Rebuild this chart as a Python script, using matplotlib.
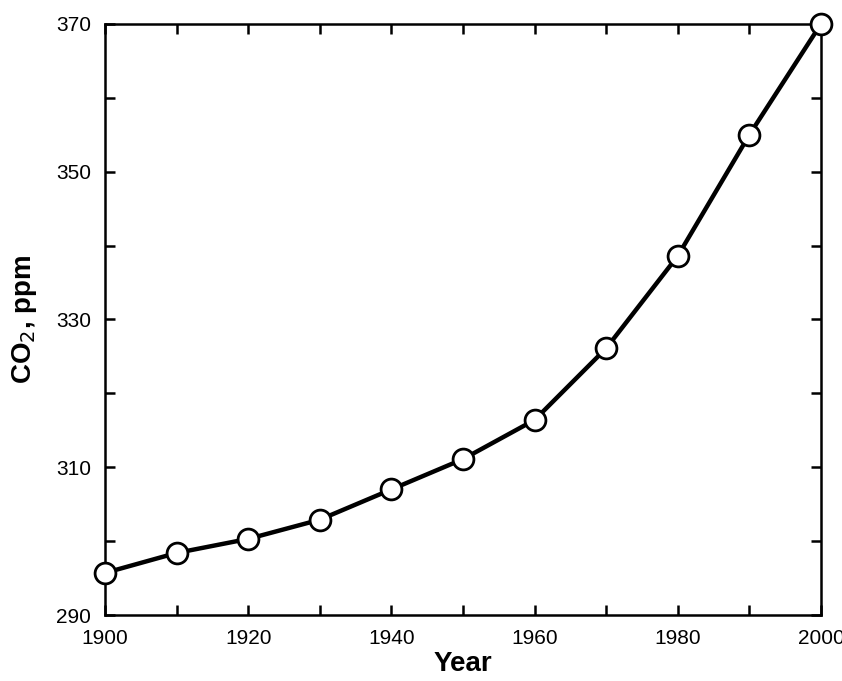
import numpy as np
import matplotlib.pyplot as plt

plt.rcParams['font.family'] = ['Liberation Sans', 'DejaVu Sans']

# Data
years = [1900, 1910, 1920, 1930, 1940, 1950, 1960, 1970, 1980, 1990, 2000]
co2 = [295.7, 298.4, 300.3, 302.9, 307.0, 311.1, 316.4, 326.1, 338.6, 355.0, 370.0]

x_ticks = [1900, 1920, 1940, 1960, 1980, 2000]
y_ticks = [290, 310, 330, 350, 370]

fig = plt.figure(figsize=(8.42, 6.81), dpi=100)
ax = fig.add_axes([0.1247, 0.0969, 0.8503, 0.8679])

ax.plot(years, co2, color='black', linewidth=3.2, marker='o', markersize=15,
        markerfacecolor='white', markeredgecolor='black', markeredgewidth=2,
        clip_on=False, zorder=3)

ax.set_xlim(1900, 2000)
ax.set_ylim(290, 370)
ax.set_xticks(x_ticks)
ax.set_yticks(y_ticks)
ax.set_xticks(np.arange(1900, 2001, 10), minor=True)
ax.set_yticks(np.arange(290, 371, 10), minor=True)

for s in ax.spines.values():
    s.set_linewidth(1.8)
ax.tick_params(which='both', direction='in', top=True, right=True,
               width=1.8, labelsize=15)
ax.tick_params(which='major', length=7, pad=10)
ax.tick_params(which='minor', length=7)

ax.set_xlabel('Year', fontsize=20, fontweight='bold', labelpad=2)
ax.set_ylabel('CO$_2$, ppm', fontsize=20, fontweight='bold', labelpad=12)

fig.savefig('out.png', dpi=100)
